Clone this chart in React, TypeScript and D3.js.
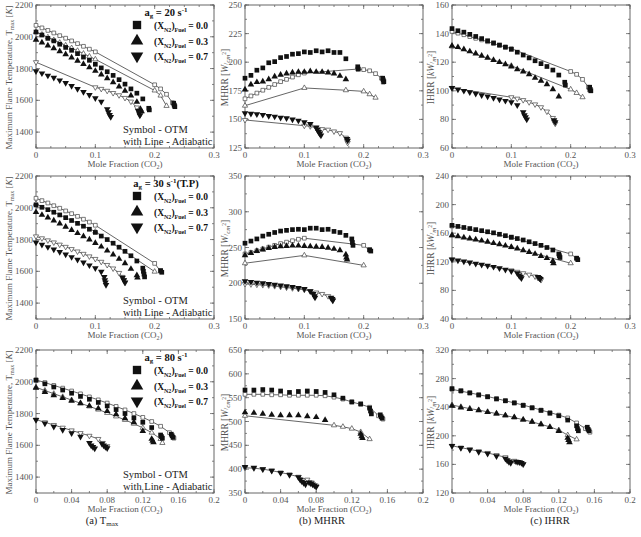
import * as d3 from "d3";

type Pt = [number, number];

// Strain rate a_g = 20 s^-1 : OTM (symbols) and adiabatic (lines) results
const T20_OTM_00: Pt[] = [[0, 2030], [0.01, 2011], [0.02, 1990], [0.03, 1974], [0.04, 1953], [0.05, 1933], [0.06, 1915], [0.07, 1894], [0.08, 1872], [0.09, 1852], [0.1, 1827], [0.11, 1804], [0.12, 1780], [0.13, 1757], [0.14, 1730], [0.15, 1702], [0.16, 1672], [0.17, 1645], [0.18, 1609], [0.19, 1550], [0.191, 1540], [0.232, 1582], [0.233, 1570], [0.234, 1560]];
const T20_OTM_03: Pt[] = [[0, 1981], [0.01, 1963], [0.02, 1945], [0.03, 1927], [0.04, 1908], [0.05, 1889], [0.06, 1869], [0.07, 1849], [0.08, 1828], [0.09, 1807], [0.1, 1785], [0.11, 1762], [0.12, 1738], [0.13, 1713], [0.14, 1687], [0.15, 1660], [0.16, 1630], [0.17, 1590], [0.176, 1545], [0.178, 1530]];
const T20_OTM_07: Pt[] = [[0, 1783], [0.01, 1770], [0.02, 1756], [0.03, 1742], [0.04, 1726], [0.05, 1709], [0.06, 1691], [0.07, 1672], [0.08, 1653], [0.09, 1634], [0.1, 1614], [0.11, 1592], [0.12, 1545], [0.122, 1525], [0.124, 1508], [0.126, 1495], [0.172, 1535], [0.174, 1518], [0.175, 1505]];
const T20_ADI_00: Pt[] = [[0, 2072], [0.01, 2056], [0.02, 2040], [0.03, 2024], [0.04, 2007], [0.05, 1991], [0.06, 1974], [0.07, 1957], [0.08, 1940], [0.09, 1922], [0.1, 1905], [0.2, 1698], [0.21, 1672], [0.22, 1638], [0.23, 1585], [0.233, 1568]];
const T20_ADI_03: Pt[] = [[0, 2030], [0.01, 2014], [0.02, 1997], [0.03, 1980], [0.04, 1963], [0.05, 1946], [0.06, 1929], [0.07, 1912], [0.08, 1894], [0.09, 1876], [0.1, 1858], [0.2, 1662], [0.21, 1630], [0.22, 1565]];
const T20_ADI_07: Pt[] = [[0, 1840], [0.1, 1682], [0.11, 1672], [0.12, 1660], [0.13, 1646], [0.14, 1632], [0.15, 1615], [0.16, 1592], [0.17, 1555], [0.174, 1528], [0.176, 1510]];

const M20_OTM_00: Pt[] = [[0, 186], [0.01, 188.5], [0.02, 193], [0.03, 195], [0.04, 199.5], [0.05, 200.5], [0.06, 204], [0.07, 205], [0.08, 207], [0.09, 207.5], [0.1, 209], [0.11, 208.5], [0.12, 210], [0.13, 209], [0.14, 210], [0.15, 208.5], [0.16, 208.5], [0.17, 203], [0.19, 196], [0.191, 194], [0.232, 186], [0.233, 184.5], [0.234, 183]];
const M20_OTM_03: Pt[] = [[0, 176], [0.01, 180.5], [0.02, 182.5], [0.03, 183], [0.04, 185], [0.05, 187.5], [0.06, 189], [0.07, 190], [0.08, 191], [0.09, 191.5], [0.1, 191.5], [0.11, 192], [0.12, 191.5], [0.13, 191.5], [0.14, 191], [0.15, 190], [0.16, 188], [0.17, 185]];
const M20_OTM_07: Pt[] = [[0, 155.5], [0.01, 155], [0.02, 154.5], [0.03, 154], [0.04, 153], [0.05, 152.5], [0.06, 151.5], [0.07, 151], [0.08, 150], [0.09, 149], [0.1, 147.5], [0.11, 146], [0.12, 143], [0.122, 141], [0.124, 139], [0.126, 137.5], [0.128, 136], [0.172, 133], [0.173, 131.5]];
const M20_ADI_00: Pt[] = [[0, 168], [0.01, 170.5], [0.02, 173], [0.03, 175.5], [0.04, 178], [0.05, 180.5], [0.06, 183], [0.07, 185], [0.08, 187], [0.09, 189], [0.1, 190.5], [0.19, 194], [0.2, 193.5], [0.21, 192.5], [0.22, 190], [0.23, 186], [0.233, 182.5]];
const M20_ADI_03: Pt[] = [[0, 162], [0.1, 177.5], [0.17, 175.5], [0.2, 174.5], [0.21, 172], [0.22, 169]];
const M20_ADI_07: Pt[] = [[0, 149.5], [0.1, 144.5], [0.11, 144], [0.12, 142.5], [0.13, 141.5], [0.14, 141], [0.15, 139.5], [0.16, 138], [0.17, 134], [0.172, 131], [0.173, 129.5]];

const I20_OTM_00: Pt[] = [[0, 143.5], [0.01, 142], [0.02, 141], [0.03, 139.5], [0.04, 138], [0.05, 136.5], [0.06, 135], [0.07, 133.5], [0.08, 132], [0.09, 130.5], [0.1, 129], [0.11, 127], [0.12, 125], [0.13, 123], [0.14, 121], [0.15, 119], [0.16, 117], [0.17, 114.5], [0.18, 111], [0.19, 106], [0.191, 104], [0.232, 102.5], [0.233, 101], [0.234, 100]];
const I20_OTM_03: Pt[] = [[0, 131.5], [0.01, 130.5], [0.02, 129], [0.03, 127.5], [0.04, 126], [0.05, 124.5], [0.06, 123], [0.07, 121.5], [0.08, 120], [0.09, 118.5], [0.1, 117], [0.11, 115], [0.12, 113.5], [0.13, 111.5], [0.14, 109], [0.15, 107], [0.16, 104.5], [0.17, 101], [0.18, 96]];
const I20_OTM_07: Pt[] = [[0, 102], [0.01, 101], [0.02, 100], [0.03, 99], [0.04, 98], [0.05, 97], [0.06, 96], [0.07, 95], [0.08, 94], [0.09, 93], [0.1, 92], [0.11, 90], [0.12, 85], [0.122, 83], [0.124, 81.5], [0.126, 80], [0.172, 79.5], [0.174, 78]];
const I20_ADI_00: Pt[] = [[0, 141.5], [0.01, 140.3], [0.02, 139.2], [0.03, 137.9], [0.04, 136.7], [0.05, 135.6], [0.06, 134.3], [0.07, 133.1], [0.08, 131.8], [0.09, 130.6], [0.1, 129.5], [0.2, 113.5], [0.21, 111.5], [0.22, 108], [0.23, 102.5], [0.232, 100.5]];
const I20_ADI_03: Pt[] = [[0, 131], [0.1, 117.5], [0.2, 101], [0.21, 98.5], [0.22, 95.5]];
const I20_ADI_07: Pt[] = [[0, 102], [0.1, 95.5], [0.11, 94.5], [0.12, 93.5], [0.13, 92], [0.14, 90.5], [0.15, 88.5], [0.16, 85.5], [0.17, 81], [0.172, 78.5], [0.174, 77]];

// Strain rate a_g = 30 s^-1 (turning point)
const T30_OTM_00: Pt[] = [[0, 2018], [0.01, 2003], [0.02, 1988], [0.03, 1972], [0.04, 1955], [0.05, 1938], [0.06, 1920], [0.07, 1902], [0.08, 1884], [0.09, 1865], [0.1, 1845], [0.11, 1822], [0.12, 1800], [0.13, 1777], [0.14, 1752], [0.15, 1726], [0.16, 1698], [0.17, 1665], [0.18, 1620], [0.181, 1600], [0.182, 1582], [0.183, 1565], [0.21, 1605], [0.212, 1594]];
const T30_OTM_03: Pt[] = [[0, 1972], [0.01, 1955], [0.02, 1938], [0.03, 1920], [0.04, 1900], [0.05, 1880], [0.06, 1860], [0.07, 1840], [0.08, 1820], [0.09, 1800], [0.1, 1778], [0.11, 1755], [0.12, 1730], [0.13, 1705], [0.14, 1678], [0.15, 1650], [0.16, 1615], [0.17, 1575], [0.171, 1560]];
const T30_OTM_07: Pt[] = [[0, 1782], [0.01, 1768], [0.02, 1753], [0.03, 1738], [0.04, 1722], [0.05, 1706], [0.06, 1690], [0.07, 1673], [0.08, 1656], [0.09, 1638], [0.1, 1620], [0.11, 1598], [0.115, 1565], [0.116, 1545], [0.117, 1530], [0.118, 1515], [0.146, 1560], [0.148, 1545], [0.15, 1530]];
const T30_ADI_00: Pt[] = [[0, 2060], [0.01, 2045], [0.02, 2030], [0.03, 2013], [0.04, 1997], [0.05, 1980], [0.06, 1963], [0.07, 1946], [0.08, 1928], [0.09, 1910], [0.1, 1890], [0.2, 1650], [0.21, 1600]];
const T30_ADI_03: Pt[] = [[0, 2025], [0.1, 1850], [0.2, 1598]];
const T30_ADI_07: Pt[] = [[0, 1820], [0.01, 1808], [0.02, 1795], [0.03, 1782], [0.04, 1768], [0.05, 1754], [0.06, 1740], [0.07, 1725], [0.08, 1710], [0.09, 1694], [0.1, 1678], [0.11, 1660], [0.12, 1640], [0.13, 1618], [0.14, 1590], [0.145, 1565], [0.148, 1545], [0.15, 1528]];

const M30_OTM_00: Pt[] = [[0, 256], [0.01, 259], [0.02, 262], [0.03, 266], [0.04, 268.5], [0.05, 271], [0.06, 273], [0.07, 274], [0.08, 275], [0.09, 275.5], [0.1, 275], [0.11, 277], [0.12, 277], [0.13, 275], [0.14, 275.5], [0.15, 272.5], [0.16, 271], [0.17, 267], [0.18, 262], [0.181, 257], [0.182, 253], [0.21, 247], [0.212, 245]];
const M30_OTM_03: Pt[] = [[0, 239], [0.01, 242], [0.02, 245], [0.03, 247], [0.04, 249], [0.05, 250.5], [0.06, 251.5], [0.07, 252], [0.08, 252.5], [0.09, 252.5], [0.1, 252], [0.11, 251.5], [0.12, 251], [0.13, 250.5], [0.14, 249.5], [0.15, 248], [0.16, 246], [0.17, 240], [0.171, 236], [0.172, 233]];
const M30_OTM_07: Pt[] = [[0, 203], [0.01, 202], [0.02, 201], [0.03, 200], [0.04, 199], [0.05, 198], [0.06, 197], [0.07, 196], [0.08, 195], [0.09, 193.5], [0.1, 192], [0.11, 189], [0.115, 185], [0.117, 182], [0.118, 180], [0.145, 180], [0.147, 178], [0.148, 176]];
const M30_ADI_00: Pt[] = [[0, 241], [0.01, 243], [0.02, 245.5], [0.03, 248], [0.04, 250.5], [0.05, 253], [0.06, 255.5], [0.07, 257.5], [0.08, 259.5], [0.09, 261.5], [0.1, 263], [0.2, 253], [0.21, 246]];
const M30_ADI_03: Pt[] = [[0, 228], [0.1, 239], [0.2, 225]];
const M30_ADI_07: Pt[] = [[0, 199], [0.01, 198.5], [0.02, 198], [0.03, 197.5], [0.04, 197], [0.05, 196], [0.06, 195], [0.07, 194], [0.08, 193], [0.09, 192], [0.1, 191], [0.11, 189], [0.12, 187], [0.13, 185], [0.14, 182], [0.145, 179], [0.148, 176]];

const I30_OTM_00: Pt[] = [[0, 171], [0.01, 169.5], [0.02, 168], [0.03, 166.5], [0.04, 165], [0.05, 163.5], [0.06, 162], [0.07, 160.5], [0.08, 158.5], [0.09, 156.5], [0.1, 154.5], [0.11, 152.5], [0.12, 150.5], [0.13, 148], [0.14, 145.5], [0.15, 143], [0.16, 140], [0.17, 136.5], [0.18, 131], [0.181, 128.5], [0.182, 126], [0.21, 125], [0.212, 123]];
const I30_OTM_03: Pt[] = [[0, 157], [0.01, 155.5], [0.02, 154], [0.03, 152.5], [0.04, 151], [0.05, 149.5], [0.06, 148], [0.07, 146], [0.08, 144.5], [0.09, 142.5], [0.1, 140.5], [0.11, 138.5], [0.12, 136], [0.13, 133.5], [0.14, 131], [0.15, 128], [0.16, 125], [0.17, 121], [0.171, 118]];
const I30_OTM_07: Pt[] = [[0, 123.5], [0.01, 122], [0.02, 120.5], [0.03, 119], [0.04, 117.5], [0.05, 116], [0.06, 114.5], [0.07, 113], [0.08, 111], [0.09, 109], [0.1, 107], [0.11, 104], [0.113, 101], [0.115, 99], [0.117, 97], [0.145, 99], [0.147, 97.5], [0.149, 96]];
const I30_ADI_00: Pt[] = [[0, 170], [0.1, 154], [0.2, 131], [0.21, 125]];
const I30_ADI_03: Pt[] = [[0, 157], [0.1, 140.5], [0.2, 118]];
const I30_ADI_07: Pt[] = [[0, 123], [0.1, 108], [0.11, 106], [0.12, 104], [0.13, 102], [0.14, 99.5], [0.145, 97.5], [0.148, 96], [0.15, 94.5]];

// Strain rate a_g = 80 s^-1
const T80_OTM_00: Pt[] = [[0, 2010], [0.01, 1987], [0.02, 1967], [0.03, 1948], [0.04, 1928], [0.05, 1908], [0.06, 1890], [0.07, 1870], [0.08, 1848], [0.09, 1825], [0.1, 1800], [0.11, 1772], [0.12, 1745], [0.13, 1712], [0.14, 1665], [0.141, 1655], [0.142, 1645], [0.152, 1670], [0.153, 1660], [0.154, 1650]];
const T80_OTM_03: Pt[] = [[0, 1962], [0.01, 1935], [0.02, 1915], [0.03, 1897], [0.04, 1880], [0.05, 1864], [0.06, 1848], [0.07, 1832], [0.08, 1815], [0.09, 1795], [0.1, 1770], [0.11, 1745], [0.12, 1690], [0.13, 1640], [0.131, 1628], [0.132, 1618]];
const T80_OTM_07: Pt[] = [[0, 1760], [0.01, 1738], [0.02, 1718], [0.03, 1697], [0.04, 1677], [0.05, 1655], [0.06, 1615], [0.062, 1600], [0.064, 1590], [0.066, 1580], [0.074, 1610], [0.076, 1600], [0.078, 1590], [0.08, 1582]];
const T80_ADI_00: Pt[] = [[0, 2012], [0.01, 1995], [0.02, 1977], [0.03, 1960], [0.04, 1942], [0.05, 1924], [0.06, 1905], [0.07, 1886], [0.08, 1866], [0.09, 1845], [0.1, 1823], [0.11, 1800], [0.12, 1776], [0.13, 1750], [0.14, 1720], [0.15, 1680], [0.155, 1645]];
const T80_ADI_03: Pt[] = [[0, 1965], [0.01, 1945], [0.02, 1925], [0.03, 1905], [0.04, 1885], [0.05, 1865], [0.06, 1845], [0.07, 1825], [0.08, 1804], [0.09, 1782], [0.1, 1760], [0.11, 1736], [0.12, 1710], [0.13, 1680], [0.14, 1640], [0.142, 1615]];
const T80_ADI_07: Pt[] = [[0, 1762], [0.01, 1745], [0.02, 1728], [0.03, 1711], [0.04, 1694], [0.05, 1677], [0.06, 1660], [0.07, 1640], [0.075, 1615], [0.08, 1595]];

const M80_OTM_00: Pt[] = [[0, 566], [0.01, 566], [0.02, 567], [0.03, 566], [0.04, 564], [0.05, 561], [0.06, 563], [0.07, 564], [0.08, 563], [0.09, 561], [0.1, 556], [0.11, 549], [0.12, 541], [0.13, 537], [0.14, 528], [0.141, 522], [0.142, 516], [0.152, 514], [0.153, 510], [0.154, 507]];
const M80_OTM_03: Pt[] = [[0, 519], [0.01, 518], [0.02, 516], [0.03, 514], [0.04, 513], [0.05, 513], [0.06, 513], [0.07, 511], [0.08, 509], [0.09, 503], [0.13, 474], [0.131, 469], [0.132, 465]];
const M80_OTM_07: Pt[] = [[0, 405], [0.01, 403], [0.02, 400], [0.03, 397], [0.04, 392], [0.05, 388], [0.06, 383], [0.062, 378], [0.064, 374], [0.066, 371], [0.068, 368], [0.072, 372], [0.074, 370], [0.076, 368], [0.078, 366], [0.08, 363]];
const M80_ADI_00: Pt[] = [[0, 557], [0.01, 557], [0.02, 557], [0.03, 556], [0.04, 556], [0.05, 555], [0.06, 555], [0.07, 555], [0.08, 555], [0.09, 554], [0.1, 551], [0.11, 547], [0.12, 541], [0.13, 536], [0.14, 530], [0.15, 512], [0.155, 505]];
const M80_ADI_03: Pt[] = [[0, 512], [0.1, 492], [0.11, 489], [0.12, 485], [0.13, 478], [0.14, 463]];
const M80_ADI_07: Pt[] = [[0, 403], [0.01, 402], [0.02, 400], [0.03, 397], [0.04, 393], [0.05, 389], [0.06, 384], [0.07, 378], [0.075, 372], [0.08, 365]];

const I80_OTM_00: Pt[] = [[0, 266], [0.01, 263], [0.02, 260], [0.03, 257], [0.04, 254.5], [0.05, 251.5], [0.06, 249], [0.07, 246], [0.08, 242.5], [0.09, 239], [0.1, 235.5], [0.11, 231.5], [0.12, 228], [0.13, 222], [0.14, 214], [0.141, 210], [0.142, 207], [0.152, 212], [0.153, 209], [0.154, 207]];
const I80_OTM_03: Pt[] = [[0, 242], [0.01, 239.5], [0.02, 237.5], [0.03, 235.5], [0.04, 233], [0.05, 231], [0.06, 228.5], [0.07, 226], [0.08, 222.5], [0.09, 219.5], [0.1, 216], [0.11, 212], [0.12, 206.5], [0.13, 197], [0.131, 194], [0.132, 191]];
const I80_OTM_07: Pt[] = [[0, 186], [0.01, 183], [0.02, 180.5], [0.03, 177.5], [0.04, 175], [0.05, 171.5], [0.06, 168], [0.062, 165.5], [0.064, 163.5], [0.066, 162], [0.072, 164], [0.074, 163.5], [0.076, 163], [0.078, 162], [0.08, 160.5]];
const I80_ADI_00: Pt[] = [[0, 265], [0.01, 262.5], [0.02, 260], [0.03, 257.5], [0.04, 255], [0.05, 252], [0.06, 249], [0.07, 246], [0.08, 243], [0.09, 239.5], [0.1, 236], [0.11, 232.5], [0.12, 229], [0.13, 225], [0.14, 218], [0.15, 210], [0.155, 205]];
const I80_ADI_03: Pt[] = [[0, 243], [0.01, 240.5], [0.02, 238], [0.03, 236], [0.04, 233.5], [0.05, 231], [0.06, 228.5], [0.07, 225.5], [0.08, 222.5], [0.09, 219.5], [0.1, 216], [0.11, 212.5], [0.12, 208], [0.13, 201], [0.14, 195]];
const I80_ADI_07: Pt[] = [[0, 186], [0.01, 183.5], [0.02, 181], [0.03, 178.5], [0.04, 176], [0.05, 173], [0.06, 170], [0.07, 165], [0.08, 160]];

// Axis ticks and labels
const X_TICKS_WIDE = [0, 0.1, 0.2, 0.3];
const X_TICKS_NARROW = [0, 0.04, 0.08, 0.12, 0.16, 0.2];
const T_TICKS = [1400, 1600, 1800, 2000, 2200];
const M20_TICKS = [125, 150, 175, 200, 225, 250];
const M30_TICKS = [150, 200, 250, 300, 350];
const M80_TICKS = [350, 400, 450, 500, 550, 600, 650];
const I20_TICKS = [60, 80, 100, 120, 140, 160];
const I30_TICKS = [40, 80, 120, 160, 200, 240];
const I80_TICKS = [120, 160, 200, 240, 280, 320];
const STRAIN_RATES = ["20", "30", "80"];
const RATE_NOTES = ["", "(T.P)", ""];
const N2_FRACTIONS = ["0.0", "0.3", "0.7"];

const FONT = "'Liberation Serif', 'Times New Roman', Times, serif";
const COL_LEFT = [36, 245, 452];
const ROW_TOP = [5, 176, 350];
const FRAME_W = 178;
const FRAME_H = 143;
const GREY = "#555";

type Kind = "T" | "M" | "I";

type PanelDef = {
  col: number;
  row: number;
  kind: Kind;
  xDomain: [number, number];
  xTicks: number[];
  xMinor: number;
  yDomain: [number, number];
  yTicks: number[];
  yMinor: number;
  otm: Pt[][];
  adi: Pt[][];
};

const wide = { xDomain: [0, 0.3] as [number, number], xTicks: X_TICKS_WIDE, xMinor: 0.025 };
const narrow = { xDomain: [0, 0.2] as [number, number], xTicks: X_TICKS_NARROW, xMinor: 0.02 };

const PANELS: PanelDef[] = [
  { col: 0, row: 0, kind: "T", ...wide, yDomain: [1300, 2200], yTicks: T_TICKS, yMinor: 100, otm: [T20_OTM_00, T20_OTM_03, T20_OTM_07], adi: [T20_ADI_00, T20_ADI_03, T20_ADI_07] },
  { col: 1, row: 0, kind: "M", ...wide, yDomain: [125, 250], yTicks: M20_TICKS, yMinor: 12.5, otm: [M20_OTM_00, M20_OTM_03, M20_OTM_07], adi: [M20_ADI_00, M20_ADI_03, M20_ADI_07] },
  { col: 2, row: 0, kind: "I", ...wide, yDomain: [60, 160], yTicks: I20_TICKS, yMinor: 10, otm: [I20_OTM_00, I20_OTM_03, I20_OTM_07], adi: [I20_ADI_00, I20_ADI_03, I20_ADI_07] },
  { col: 0, row: 1, kind: "T", ...wide, yDomain: [1300, 2200], yTicks: T_TICKS, yMinor: 100, otm: [T30_OTM_00, T30_OTM_03, T30_OTM_07], adi: [T30_ADI_00, T30_ADI_03, T30_ADI_07] },
  { col: 1, row: 1, kind: "M", ...wide, yDomain: [150, 350], yTicks: M30_TICKS, yMinor: 25, otm: [M30_OTM_00, M30_OTM_03, M30_OTM_07], adi: [M30_ADI_00, M30_ADI_03, M30_ADI_07] },
  { col: 2, row: 1, kind: "I", ...wide, yDomain: [40, 240], yTicks: I30_TICKS, yMinor: 20, otm: [I30_OTM_00, I30_OTM_03, I30_OTM_07], adi: [I30_ADI_00, I30_ADI_03, I30_ADI_07] },
  { col: 0, row: 2, kind: "T", ...narrow, yDomain: [1300, 2200], yTicks: T_TICKS, yMinor: 100, otm: [T80_OTM_00, T80_OTM_03, T80_OTM_07], adi: [T80_ADI_00, T80_ADI_03, T80_ADI_07] },
  { col: 1, row: 2, kind: "M", ...narrow, yDomain: [350, 650], yTicks: M80_TICKS, yMinor: 25, otm: [M80_OTM_00, M80_OTM_03, M80_OTM_07], adi: [M80_ADI_00, M80_ADI_03, M80_ADI_07] },
  { col: 2, row: 2, kind: "I", ...narrow, yDomain: [120, 320], yTicks: I80_TICKS, yMinor: 20, otm: [I80_OTM_00, I80_OTM_03, I80_OTM_07], adi: [I80_ADI_00, I80_ADI_03, I80_ADI_07] },
];

// square, triangle, inverted triangle
function symbolPath(i: number, size: number) {
  const type = i === 0 ? d3.symbolSquare : d3.symbolTriangle;
  const s = i === 0 ? size : size * 0.85;
  return d3.symbol().type(type).size(s)() ?? "";
}

function Marker({ i, cx, cy, size, filled }: { i: number; cx: number; cy: number; size: number; filled: boolean }) {
  const rot = i === 2 ? " rotate(180)" : "";
  return (
    <path
      d={symbolPath(i, size)}
      transform={`translate(${cx},${cy})${rot}`}
      fill={filled ? "#111" : "#fff"}
      stroke={filled ? "none" : "#444"}
      strokeWidth={0.7}
    />
  );
}

function YTitle({ kind, cx, cy }: { kind: Kind; cx: number; cy: number }) {
  return (
    <text transform={`translate(${cx},${cy}) rotate(-90)`} textAnchor="middle" fontSize={kind === "T" ? 9 : 9.5} fill={GREY}>
      {kind === "T" && (
        <>
          Maximum Flame Temperature, T<tspan dy={2} fontSize={6}>max</tspan>
          <tspan dy={-2}> [</tspan>
          <tspan fontStyle="italic">K</tspan>]
        </>
      )}
      {kind === "M" && (
        <>
          MHRR [<tspan fontStyle="italic">W</tspan>
          <tspan fontSize={7}>/</tspan>
          <tspan fontStyle="italic" fontSize={7} dy={1.5}>cm</tspan>
          <tspan fontSize={5.5} dy={-4}>2</tspan>
          <tspan dy={2.5}>]</tspan>
        </>
      )}
      {kind === "I" && (
        <>
          IHRR [<tspan fontStyle="italic">kW</tspan>
          <tspan fontSize={7}>/</tspan>
          <tspan fontStyle="italic" fontSize={7} dy={1.5}>m</tspan>
          <tspan fontSize={5.5} dy={-4}>2</tspan>
          <tspan dy={2.5}>]</tspan>
        </>
      )}
    </text>
  );
}

function Legend({ left, top, bottom, row }: { left: number; top: number; bottom: number; row: number }) {
  const mx = left + 101;
  const tx = left + 118;
  const rowsY = [20, 36, 51];
  return (
    <g>
      <text x={left + 130} y={top + 11} textAnchor="middle" fontSize={10.5} fontWeight="bold" fill="#111">
        a<tspan dy={2} fontSize={7}>g</tspan>
        <tspan dy={-2}> = {STRAIN_RATES[row]} s</tspan>
        <tspan dy={-4} fontSize={7}>-1</tspan>
        <tspan dy={4}>{RATE_NOTES[row]}</tspan>
      </text>
      {N2_FRACTIONS.map((f, i) => (
        <g key={f}>
          <Marker i={i} cx={mx} cy={top + rowsY[i]} size={i === 0 ? 70 : 80} filled />
          <text x={tx} y={top + rowsY[i] + 4} fontSize={9.5} fontWeight="bold" fill="#111">
            (X<tspan dy={2.5} fontSize={6}>N2</tspan>
            <tspan dy={-2.5}>)</tspan>
            <tspan dy={2.5} fontSize={6}>Fuel</tspan>
            <tspan dy={-2.5}> = {f}</tspan>
          </text>
        </g>
      ))}
      <text x={left + 87} y={bottom - 15} fontSize={10.5} fill="#222">Symbol - OTM</text>
      <text x={left + 87} y={bottom - 3} fontSize={10.5} fill="#222">with Line - Adiabatic</text>
    </g>
  );
}

function Panel({ def }: { def: PanelDef }) {
  const left = COL_LEFT[def.col];
  const top = ROW_TOP[def.row];
  const right = left + FRAME_W;
  const bottom = top + FRAME_H;
  const x = d3.scaleLinear().domain(def.xDomain).range([left, right]);
  const y = d3.scaleLinear().domain(def.yDomain).range([bottom, top]);
  const line = d3.line<Pt>().x((d) => x(d[0])).y((d) => y(d[1]));
  const xMinor = d3.range(def.xDomain[0], def.xDomain[1] + 1e-9, def.xMinor);
  const yMinor = d3.range(def.yDomain[0], def.yDomain[1] + 1e-9, def.yMinor);
  const titleX = def.kind === "T" ? left - 24 : def.kind === "M" ? left - 17 : left - 18;

  return (
    <g>
      {/* tick marks on all four sides, pointing inward */}
      <g stroke="#666" strokeWidth={0.8}>
        {xMinor.map((v) => (
          <g key={`xm${v}`}>
            <line x1={x(v)} x2={x(v)} y1={bottom} y2={bottom - 2} />
            <line x1={x(v)} x2={x(v)} y1={top} y2={top + 2} />
          </g>
        ))}
        {def.xTicks.map((v) => (
          <g key={`xt${v}`}>
            <line x1={x(v)} x2={x(v)} y1={bottom} y2={bottom - 4} />
            <line x1={x(v)} x2={x(v)} y1={top} y2={top + 4} />
          </g>
        ))}
        {yMinor.map((v) => (
          <g key={`ym${v}`}>
            <line x1={left} x2={left + 2} y1={y(v)} y2={y(v)} />
            <line x1={right} x2={right - 2} y1={y(v)} y2={y(v)} />
          </g>
        ))}
        {def.yTicks.map((v) => (
          <g key={`yt${v}`}>
            <line x1={left} x2={left + 4} y1={y(v)} y2={y(v)} />
            <line x1={right} x2={right - 4} y1={y(v)} y2={y(v)} />
          </g>
        ))}
      </g>
      <rect x={left} y={top} width={FRAME_W} height={FRAME_H} fill="none" stroke="#666" strokeWidth={1} />

      {def.xTicks.map((v) => (
        <text key={`xl${v}`} x={x(v)} y={bottom + 10} textAnchor="middle" fontSize={9} fill={GREY}>
          {String(v)}
        </text>
      ))}
      {def.yTicks.map((v) => (
        <text key={`yl${v}`} x={left - 3} y={y(v) + 3} textAnchor="end" fontSize={9} fill={GREY}>
          {String(v)}
        </text>
      ))}
      <text x={(left + right) / 2} y={bottom + 19} textAnchor="middle" fontSize={9} fill={GREY}>
        Mole Fraction (CO<tspan dy={2} fontSize={6}>2</tspan>
        <tspan dy={-2}>)</tspan>
      </text>
      <YTitle kind={def.kind} cx={titleX} cy={(top + bottom) / 2 + 1} />

      {/* adiabatic solutions: lines with open symbols */}
      {def.adi.map((s, i) => (
        <path key={`al${i}`} d={line(s) ?? ""} fill="none" stroke="#555" strokeWidth={0.9} />
      ))}
      {def.adi.map((s, i) =>
        s.map((d, j) => <Marker key={`am${i}-${j}`} i={i} cx={x(d[0])} cy={y(d[1])} size={14} filled={false} />)
      )}
      {/* OTM solutions: filled symbols */}
      {def.otm.map((s, i) =>
        s.map((d, j) => <Marker key={`om${i}-${j}`} i={i} cx={x(d[0])} cy={y(d[1])} size={22} filled />)
      )}

      {def.kind === "T" && <Legend left={left} top={top} bottom={bottom} row={def.row} />}
    </g>
  );
}

export default function App() {
  const capY = 524;
  return (
    <svg
      width={641}
      height={537}
      style={{ position: "absolute", left: 0, top: 0, background: "#fff", fontFamily: FONT }}
    >
      <rect width={641} height={537} fill="#fff" />
      {PANELS.map((p) => (
        <Panel key={`${p.col}-${p.row}`} def={p} />
      ))}
      <text x={102} y={capY} textAnchor="middle" fontSize={10.5} fill="#222">
        (a)  T<tspan dy={2} fontSize={7}>max</tspan>
      </text>
      <text x={322} y={capY} textAnchor="middle" fontSize={10.5} fill="#222">
        (b)  MHRR
      </text>
      <text x={550} y={capY} textAnchor="middle" fontSize={10.5} fill="#222">
        (c)  IHRR
      </text>
    </svg>
  );
}
